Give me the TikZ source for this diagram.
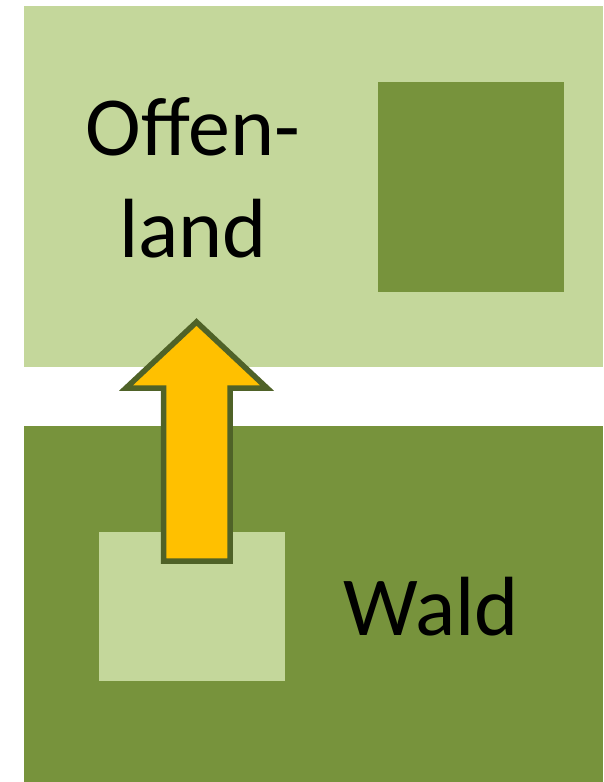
\documentclass[tikz,border=0pt]{standalone}
\usepackage{fontspec}
\setmainfont{Carlito}
\definecolor{lightgreen}{HTML}{C4D79B}
\definecolor{darkgreen}{HTML}{77933C}
\definecolor{arrowyellow}{HTML}{FFC000}
\definecolor{arrowline}{HTML}{4F6228}
\tikzset{
  label/.style={font=\fontsize{84}{102}\selectfont, align=center, inner sep=0pt}
}
\begin{document}
\begin{tikzpicture}[x=1pt, y=-1pt, line join=miter]
      \useasboundingbox (0,0) rectangle (603,782);
      % fields
      \fill[lightgreen] (24,6) rectangle (603,367);
      \fill[darkgreen] (378,82) rectangle (564,292);
      \fill[darkgreen] (24,426) rectangle (603,782);
      \fill[lightgreen] (99,532) rectangle (285,681);
      % texts
      \node[label, anchor=base] (offen) at (193,257) {Offen-\\land};
      \node[label, anchor=base] (wald) at (431,635) {Wald};
      % arrow
      \filldraw[fill=arrowyellow, draw=arrowline, line width=5.5pt]
        (163.5,561) -- (163.5,388) -- (126,388) -- (196.5,322)
        -- (267,388) -- (230,388) -- (230,561) -- cycle;
\end{tikzpicture}
\end{document}
